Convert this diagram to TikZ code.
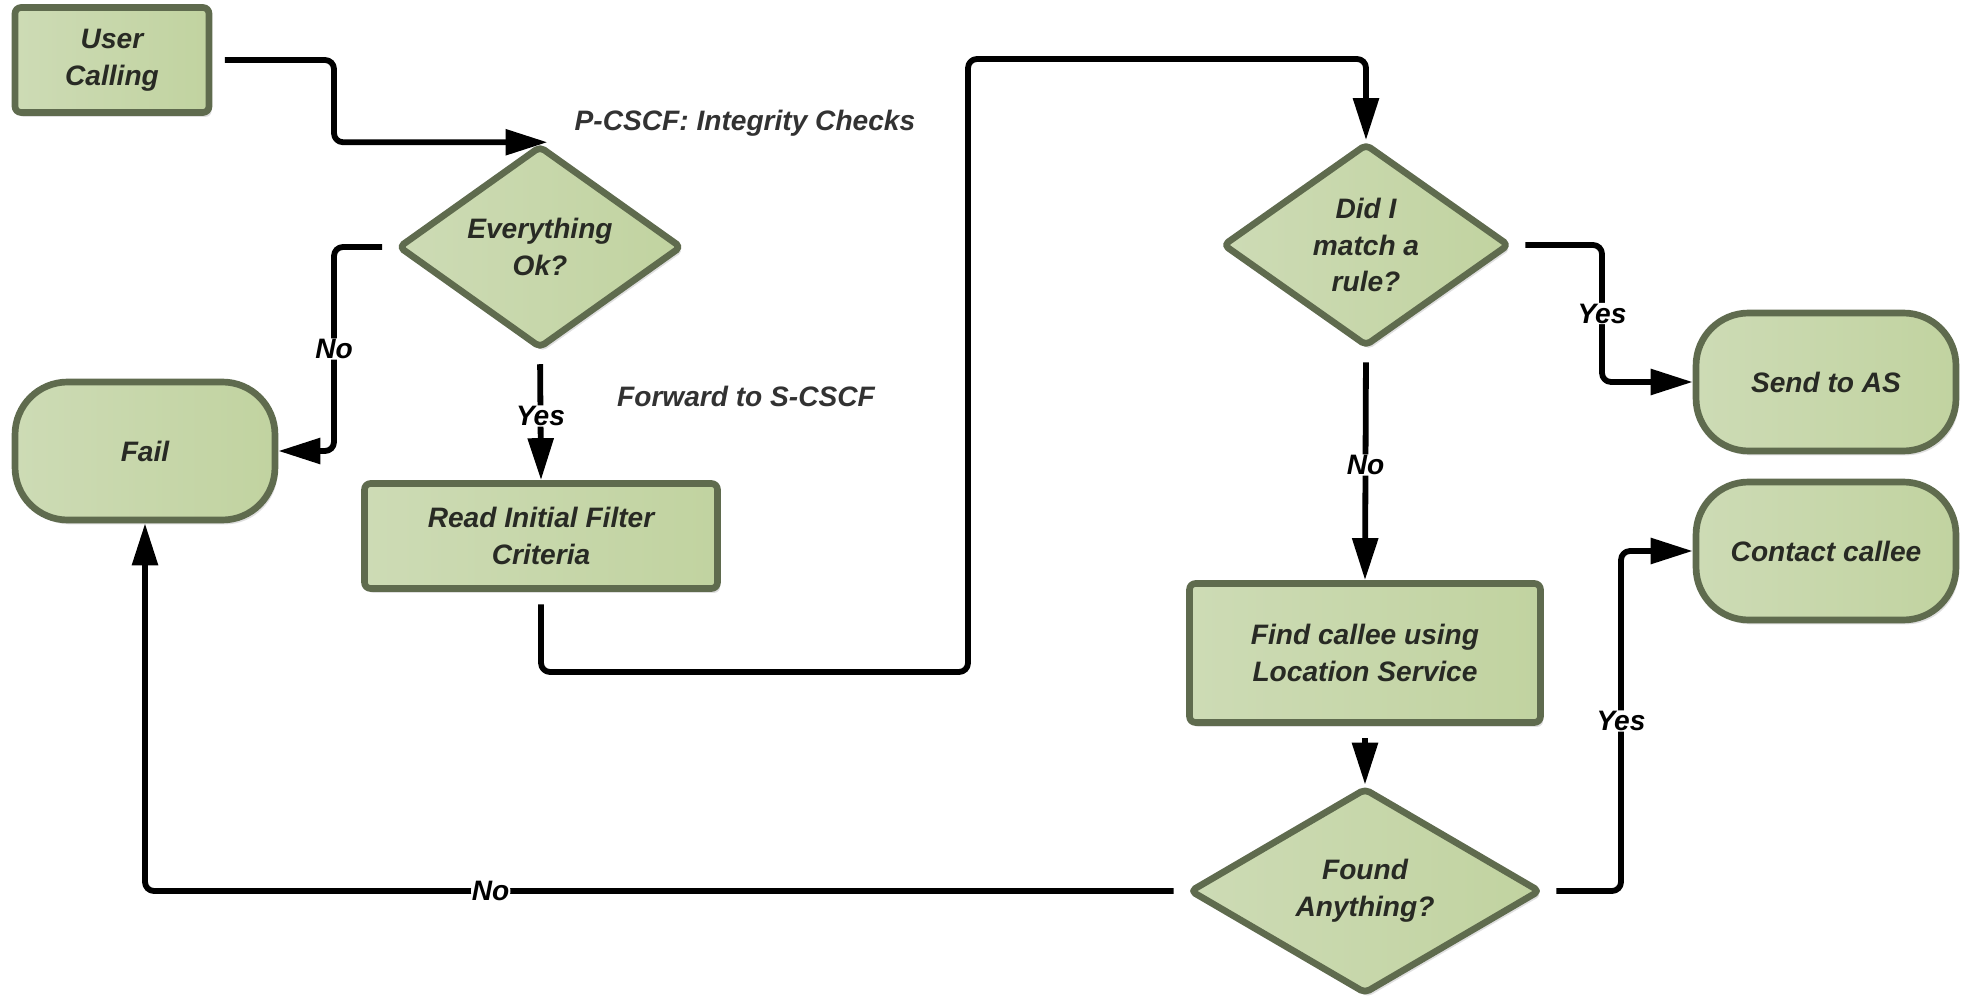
\documentclass[tikz,border=0pt]{standalone}
\usepackage{fontspec}
\setmainfont{Liberation Sans}
\usetikzlibrary{shapes.geometric,arrows.meta,shadows}
\definecolor{boxlight}{RGB}{205,219,181}
\definecolor{boxdark}{RGB}{193,211,160}
\definecolor{boxborder}{RGB}{95,107,78}
\definecolor{boxtext}{RGB}{40,42,36}
\definecolor{notegray}{RGB}{50,50,50}
\begin{document}
\begin{tikzpicture}[x=0.02cm, y=-0.02cm, line join=round, >={Triangle[length=0.84cm,width=0.5cm]},
		font=\bfseries\itshape\fontsize{16}{21}\selectfont,
		shapebase/.style={draw=boxborder, line width=3.8pt, left color=boxlight, right color=boxdark, text=boxtext, align=center,
			drop shadow={shadow xshift=1.5pt, shadow yshift=-2.5pt, opacity=0.25}},
		procbox/.style={shapebase, rectangle, rounded corners=0.12cm, minimum width=#1, minimum height=2.1cm},
		termbox/.style={shapebase, rectangle, rounded corners=1.05cm, minimum width=5.2cm, minimum height=2.76cm},
		decide/.style={shapebase, diamond, rounded corners=0.1cm, inner sep=0pt},
		flow/.style={->, line width=3.3pt, rounded corners=0.18cm, shorten <=0.25cm},
		lbl/.style={fill=white, inner sep=0.5pt, text=black},
		note/.style={text=notegray}]
					\useasboundingbox (0,0) rectangle (1963,999);
					%%%%%%%%%%%%%%%%%%%%%%%%%%%%%%%%%
					\node[procbox=3.88cm] (call) at (112,60) {User\\Calling};
					\node[decide, minimum width=5.68cm, minimum height=3.92cm] (check) at (540,247) {Everything\\Ok?};
					\node[termbox] (fail) at (145,451) {Fail};
					\node[procbox=7.06cm] (ifc) at (541,536) {Read Initial Filter\\Criteria};
					\node[decide, minimum width=5.74cm, minimum height=4.06cm] (rule) at (1366,245) {Did I\\match a\\rule?};
					\node[termbox] (as) at (1826,382) {Send to AS};
					\node[procbox=7.02cm, minimum height=2.78cm] (find) at (1365,653) {Find callee using\\Location Service};
					\node[decide, minimum width=7.02cm, minimum height=4.12cm] (found) at (1365,891) {Found\\Anything?};
					\node[termbox] (callee) at (1826,551) {Contact callee};
					%%%%%%%%%%%%%%%%%%%%%%%%%%%%%%%%%
					\node[note] (pcscf) at (745,123) {P-CSCF: Integrity Checks};
					\node[note] (scscf) at (746,396) {Forward to S-CSCF};
					%%%%%%%%%%%%%%%%%%%%%%%%%%%%%%%%%
					\coordinate (b1) at (334,146);
					\coordinate (b2) at (334,451);
					\coordinate (r1) at (968,672);
					\coordinate (r2) at (968,59);
					\coordinate (b5) at (1602,382);
					\coordinate (b8) at (1621,551);
					%%%%%%%%%%%%%%%%%%%%%%%%%%%%%%%%%
					\draw[flow] (call.east) -| (b1 |- check.north) -- ([xshift=0.15cm]check.north);
					\draw[flow] (check.west) -| node[lbl, pos=0.75] {No} (b2) -- (fail.east);
					\draw[flow] (check.south) -- node[lbl] {Yes} (ifc.north);
					\draw[flow] (ifc.south) |- (r1) -- (r2) -| (rule.north);
					\draw[flow] (rule.east) -| node[lbl, pos=0.75] {Yes} (b5) -- (as.west);
					\draw[flow] (rule.south) -- node[lbl] {No} (find.north);
					\draw[flow] (find.south) -- (found.north);
					\draw[flow] (found.east) -| node[lbl, pos=0.75] {Yes} (b8) -- (callee.west);
					\draw[flow] (found.west) -| node[lbl, pos=0.334] {No} (fail.south);
					%%%%%%%%%%%%%%%%%%%%%%%%%%%%%%%%%
\end{tikzpicture}
\end{document}
